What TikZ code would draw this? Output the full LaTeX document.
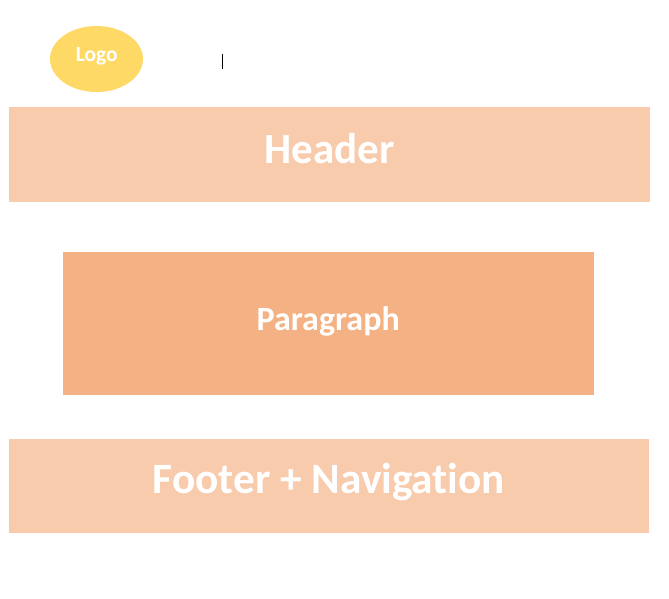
\documentclass[tikz,border=0pt]{standalone}
\usetikzlibrary{shapes.geometric}
\usepackage{fontspec}
\setmainfont[RawFeature={-liga;-clig;-dlig}]{Carlito}
\definecolor{peach}{HTML}{F7CBAC}
\definecolor{deep}{HTML}{F4B183}
\definecolor{gold}{HTML}{FFD966}
\tikzset{
  block/.style={fill=#1,draw=none,inner sep=0pt},
  caption/.style={text=white,inner sep=0pt,font=\bfseries\fontsize{#1}{#1}\selectfont},
}
\begin{document}
\begin{tikzpicture}[x=1pt,y=-1pt]
\useasboundingbox (0,0) rectangle (669,598);
\fill[white] (0,0) rectangle (669,598);
\node[block=gold,ellipse,minimum width=93pt,minimum height=66pt] (logo) at (96.5,59) {};
\node[caption=21.5] (logot) at (96.7,56) {Logo};
\node[block=peach,minimum width=641pt,minimum height=95pt] (header) at (329.5,154.5) {};
\node[caption=43] (headert) at (329.3,148.5) {Header};
\node[block=deep,minimum width=531pt,minimum height=143pt] (para) at (328.5,323.5) {};
\node[caption=34] (parat) at (328.2,321) {Paragraph};
\node[block=peach,minimum width=640pt,minimum height=94pt] (footer) at (329,486) {};
\node[caption=43.3] (footert) at (329,482) {Footer + Navigation};
\draw[black,line width=1pt] (222.5,54) -- (222.5,69);
\end{tikzpicture}
\end{document}
